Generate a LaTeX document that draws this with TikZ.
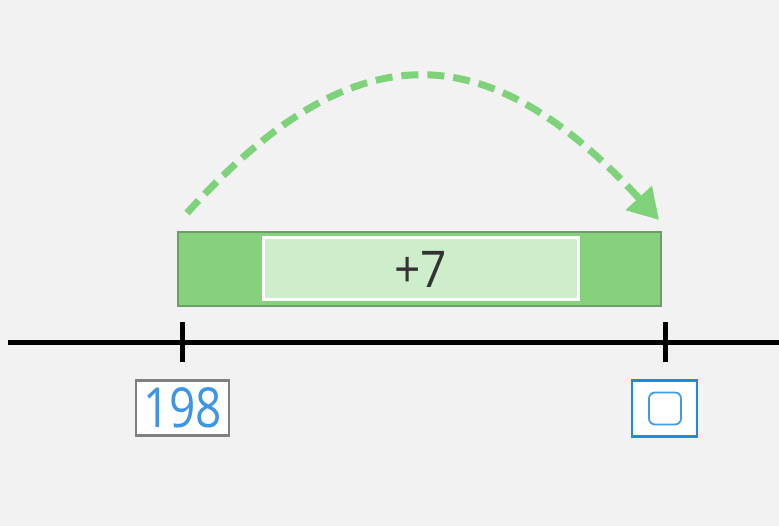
\documentclass[tikz,border=0pt]{standalone}
\usepackage{fontspec}
\setmainfont{Open Sans}
\usetikzlibrary{arrows.meta}
\definecolor{bg}{HTML}{F2F2F2}
\definecolor{barfill}{HTML}{87D07D}
\definecolor{barline}{HTML}{6B9F66}
\definecolor{innerfill}{HTML}{CEEDCA}
\definecolor{arrowgreen}{HTML}{7DD27A}
\definecolor{numblue}{HTML}{3D95E8}
\definecolor{boxblue}{HTML}{1E88E5}
\definecolor{boxgrey}{HTML}{808080}
\definecolor{txt}{HTML}{333333}
\tikzset{
  bar/.style={draw=barline, line width=2pt, fill=barfill, minimum width=483pt, minimum height=74pt, inner sep=0pt},
  innerbar/.style={draw=white, line width=3pt, fill=innerfill, minimum width=315pt, minimum height=62pt, inner sep=0pt, text=txt},
  labelbox/.style={draw=boxgrey, line width=2.5pt, fill=white, minimum width=93pt, minimum height=55pt, inner sep=0pt, text=numblue},
  answerbox/.style={draw=boxblue, line width=2.5pt, fill=white, minimum width=65pt, minimum height=56pt, inner sep=0pt},
  answerinner/.style={draw=boxblue!85, line width=1.8pt, rounded corners=6pt, minimum width=32pt, minimum height=32pt, inner sep=0pt},
  tickmark/.style={line width=5pt, black},
  jump/.style={draw=arrowgreen, line width=7pt, dash pattern=on 17pt off 9pt, -{Triangle[length=30pt,width=34pt]}}
}
\begin{document}
\begin{tikzpicture}[x=1pt,y=-1pt]
\fill[bg] (0,0) rectangle (779,526);
\useasboundingbox (0,0) rectangle (779,526);
% number line
\coordinate (lineL) at (8,343);
\coordinate (lineR) at (779,343);
\draw[line width=5pt] (lineL) -- (lineR);
\coordinate (t1top) at (182,322);
\coordinate (t1bot) at (182,362);
\coordinate (t2top) at (665,322);
\coordinate (t2bot) at (665,362);
\draw[tickmark] (t1top) -- (t1bot);
\draw[tickmark] (t2top) -- (t2bot);
% bar
\node[bar] (bar) at (419.5,269) {};
\node[innerbar, font=\fontsize{46}{50}\selectfont] (inner) at (420.5,269) {\raisebox{-2pt}{\scalebox{1}[1.1]{+7}}};
% labels
\node[labelbox, font=\fontsize{46}{50}\selectfont] (start) at (182.5,408) {\scalebox{1}[1.2]{198}};
\node[answerbox] (ans) at (664.5,408.5) {};
\node[answerinner] (ansin) at (665,408.5) {};
% jump arrow
\coordinate (js) at (187,213);
\coordinate (je) at (659,220);
\draw[jump] (js) .. controls (352,31) and (485,31) .. (je);
\end{tikzpicture}
\end{document}
